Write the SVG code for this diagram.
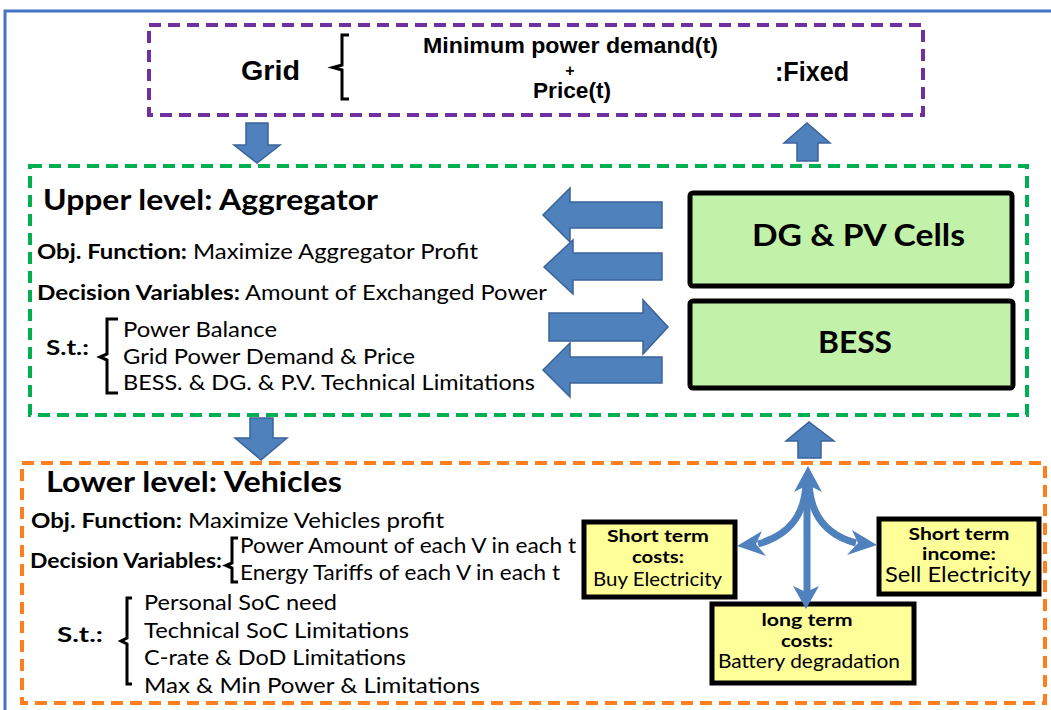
<svg xmlns="http://www.w3.org/2000/svg" width="1051" height="710" viewBox="0 0 1051 710">
  <style>
    .frame { fill: none; stroke: #4472c4; stroke-width: 3; }
    .dash { fill: none; stroke-width: 4; stroke-dasharray: 12 7; }
    .blk { fill: #4f81bd; stroke: #3a639a; stroke-width: 1.5; }
    .brace { fill: none; stroke: #000; stroke-width: 3; stroke-linejoin: miter; }
    .narrow { font-family: "Liberation Sans Narrow", "Liberation Sans", Arial, sans-serif; font-weight: bold; fill: #000; }
    .t { font-family: Lato, "Open Sans", "Liberation Sans", sans-serif; fill: #000; }
    .b { font-weight: bold; }
    .box-g { fill: #c2f1a9; stroke: #000; stroke-width: 5; }
    .box-y { fill: #ffff99; stroke: #000; stroke-width: 5; }
    .curve { fill: none; stroke: #4f81bd; stroke-width: 7; }
    .head { fill: #4f81bd; }
  </style>

  <!-- outer frame -->
  <rect class="frame" x="5" y="11" width="1100" height="800"/>

  <!-- grid -->
  <g id="grid">
    <rect class="dash" x="149" y="25" width="774" height="90" stroke="#7030a0"/>
    <text class="narrow" x="241" y="80" font-size="28" textLength="59" lengthAdjust="spacingAndGlyphs">Grid</text>
    <path class="brace" d="M349,35 L342,35 L342,65 L333,67.5 L342,70 L342,99 L349,99"/>
    <text class="narrow" x="423" y="53" font-size="22" textLength="295" lengthAdjust="spacingAndGlyphs">Minimum power demand(t)</text>
    <text class="narrow" x="570" y="76" font-size="16" text-anchor="middle">+</text>
    <text class="narrow" x="533" y="98" font-size="22" textLength="78" lengthAdjust="spacingAndGlyphs">Price(t)</text>
    <text class="narrow" x="775" y="81" font-size="28" textLength="74" lengthAdjust="spacingAndGlyphs">:Fixed</text>
  </g>

  <!-- upper level -->
  <g id="aggregator">
    <rect class="dash" x="30" y="166" width="997" height="249" stroke="#00b050"/>
    <text class="t b" x="43" y="210" font-size="28" textLength="335" lengthAdjust="spacingAndGlyphs">Upper level: Aggregator</text>
    <text class="t b" x="37" y="259" font-size="21" textLength="150" lengthAdjust="spacingAndGlyphs">Obj. Function:</text>
    <text class="t" x="193" y="259" font-size="21" textLength="285" lengthAdjust="spacingAndGlyphs">Maximize Aggregator Profit</text>
    <text class="t b" x="37" y="300" font-size="21" textLength="203" lengthAdjust="spacingAndGlyphs">Decision Variables:</text>
    <text class="t" x="245" y="300" font-size="21" textLength="302" lengthAdjust="spacingAndGlyphs">Amount of Exchanged Power</text>
    <text class="t b" x="46" y="355" font-size="21" textLength="43" lengthAdjust="spacingAndGlyphs">S.t.:</text>
    <path class="brace" d="M118,319 L107,319 L107,354 L100,357 L107,360 L107,393 L118,393"/>
    <text class="t" x="123" y="337" font-size="21" textLength="154" lengthAdjust="spacingAndGlyphs">Power Balance</text>
    <text class="t" x="123" y="364" font-size="21" textLength="292" lengthAdjust="spacingAndGlyphs">Grid Power Demand &amp; Price</text>
    <text class="t" x="123" y="390" font-size="21" textLength="412" lengthAdjust="spacingAndGlyphs">BESS. &amp; DG. &amp; P.V. Technical Limitations</text>
  </g>

  <g id="dg-pv">
    <rect class="box-g" x="690" y="193" width="322" height="93" rx="3"/>
    <text class="t b" x="752" y="246" font-size="30" textLength="213" lengthAdjust="spacingAndGlyphs">DG &amp; PV Cells</text>
  </g>

  <g id="bess">
    <rect class="box-g" x="690" y="301" width="323" height="87" rx="3"/>
    <text class="t b" x="818" y="353" font-size="30" textLength="74" lengthAdjust="spacingAndGlyphs">BESS</text>
  </g>

  <!-- lower level -->
  <g id="vehicles">
    <rect class="dash" x="22" y="463" width="1023" height="240" stroke="#ff7f1e"/>
    <text class="t b" x="46" y="492" font-size="28" textLength="296" lengthAdjust="spacingAndGlyphs">Lower level: Vehicles</text>
    <text class="t b" x="31" y="528" font-size="21" textLength="151" lengthAdjust="spacingAndGlyphs">Obj. Function:</text>
    <text class="t" x="188" y="528" font-size="21" textLength="256" lengthAdjust="spacingAndGlyphs">Maximize Vehicles profit</text>
    <text class="t b" x="30" y="568" font-size="21" textLength="192" lengthAdjust="spacingAndGlyphs">Decision Variables:</text>
    <path class="brace" d="M238,538 L232,538 L232,563 L226,565.5 L232,568 L232,582 L238,582"/>
    <text class="t" x="240" y="553" font-size="21" textLength="336" lengthAdjust="spacingAndGlyphs">Power Amount of each V in each t</text>
    <text class="t" x="240" y="580" font-size="21" textLength="320" lengthAdjust="spacingAndGlyphs">Energy Tariffs of each V in each t</text>
    <text class="t b" x="57" y="642" font-size="21" textLength="46" lengthAdjust="spacingAndGlyphs">S.t.:</text>
    <path class="brace" d="M132,598 L127,598 L127,638 L121,641 L127,644 L127,684 L132,684"/>
    <text class="t" x="144" y="610" font-size="21" textLength="193" lengthAdjust="spacingAndGlyphs">Personal SoC need</text>
    <text class="t" x="144" y="638" font-size="21" textLength="265" lengthAdjust="spacingAndGlyphs">Technical SoC Limitations</text>
    <text class="t" x="144" y="665" font-size="21" textLength="262" lengthAdjust="spacingAndGlyphs">C-rate &amp; DoD Limitations</text>
    <text class="t" x="144" y="693" font-size="21" textLength="336" lengthAdjust="spacingAndGlyphs">Max &amp; Min Power &amp; Limitations</text>
  </g>

  <g id="short-term-costs">
    <rect class="box-y" x="584" y="522" width="151" height="75"/>
    <text class="t b" x="658" y="542" font-size="17" text-anchor="middle" textLength="102" lengthAdjust="spacingAndGlyphs">Short term</text>
    <text class="t b" x="658" y="563" font-size="17" text-anchor="middle" textLength="52" lengthAdjust="spacingAndGlyphs">costs:</text>
    <text class="t" x="593" y="586" font-size="19" textLength="129" lengthAdjust="spacingAndGlyphs">Buy Electricity</text>
  </g>

  <g id="short-term-income">
    <rect class="box-y" x="879" y="519" width="160" height="75"/>
    <text class="t b" x="959" y="540" font-size="17" text-anchor="middle" textLength="101" lengthAdjust="spacingAndGlyphs">Short term</text>
    <text class="t b" x="959" y="560" font-size="17" text-anchor="middle" textLength="74" lengthAdjust="spacingAndGlyphs">income:</text>
    <text class="t" x="885" y="582" font-size="21" textLength="146" lengthAdjust="spacingAndGlyphs">Sell Electricity</text>
  </g>

  <g id="long-term-costs">
    <rect class="box-y" x="712" y="604" width="202" height="79"/>
    <text class="t b" x="807" y="626" font-size="17" text-anchor="middle" textLength="91" lengthAdjust="spacingAndGlyphs">long term</text>
    <text class="t b" x="807" y="647" font-size="17" text-anchor="middle" textLength="52" lengthAdjust="spacingAndGlyphs">costs:</text>
    <text class="t" x="718" y="668" font-size="19" textLength="182" lengthAdjust="spacingAndGlyphs">Battery degradation</text>
  </g>

  <!-- connectors -->
  <g id="connectors">
    <!-- grid to aggregator -->
    <polygon class="blk" points="246,123 268,123 268,145 280,145 257,163 234,145 246,145"/>
    <!-- aggregator to grid -->
    <polygon class="blk" points="797,161 797,143 784,143 807,123 830,143 818,143 818,161"/>
    <!-- DG & PV to aggregator -->
    <polygon class="blk" points="662,202 570,202 570,188 543,215 570,242 570,228 662,228"/>
    <polygon class="blk" points="662,253 573,253 573,240 544,267 573,294 573,280 662,280"/>
    <!-- aggregator to BESS -->
    <polygon class="blk" points="549,313 643,313 643,300 668,327 643,354 643,341 549,341"/>
    <!-- BESS to aggregator -->
    <polygon class="blk" points="662,357 570,357 570,343 543,370 570,397 570,383 662,383"/>
    <!-- aggregator to vehicles -->
    <polygon class="blk" points="250,418 273,418 273,438 287,438 261,460 235,438 250,438"/>
    <!-- vehicles to aggregator -->
    <polygon class="blk" points="798,458 798,441 786,441 809,422 834,441 821,441 821,458"/>

    <!-- three-way split -->
    <path class="curve" d="M807,486 L807,592"/>
    <path class="curve" d="M806,482 C805,515 790,535 758,544"/>
    <path class="curve" d="M809,482 C810,515 826,535 856,543"/>
    <polygon class="head" points="808,466 822,492 808,485 794,492"/>
    <polygon class="head" points="806,609 793,586 806,592 819,586"/>
    <polygon class="head" points="737,546 762,531 756,544 766,556"/>
    <polygon class="head" points="877,545 852,530 858,543 847,555"/>
  </g>
</svg>
